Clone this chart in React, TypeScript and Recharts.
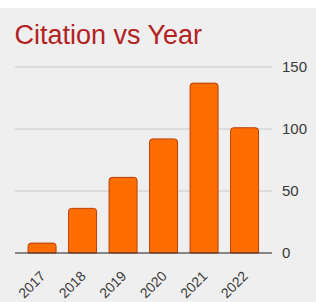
import { BarChart, Bar, XAxis, YAxis, CartesianGrid } from "recharts"

const years = ["2017", "2018", "2019", "2020", "2021", "2022"]
const citations = [8, 36, 61, 92, 137, 101]
const yTicks = [0, 50, 100, 150]

const data = years.map((year, i) => ({ year, citations: citations[i] }))

function YearTick(props: any) {
  const { x, y, payload } = props
  const ax = x + 4
  const ay = y + 16
  return (
    <text
      x={ax}
      y={ay}
      transform={`rotate(-45, ${ax}, ${ay})`}
      textAnchor="end"
      fontSize={14}
      fill="#3a3a3a"
      fontFamily="'Liberation Sans', Arial, sans-serif"
    >
      {payload.value}
    </text>
  )
}

export default function App() {
  return (
    <div style={{ position: "absolute", left: 0, top: 0, width: 316, height: 302, background: "#fff" }}>
      <div style={{ position: "absolute", left: 0, top: 8, width: 316, height: 294, background: "#efefef" }}>
        <svg width={316} height={60} style={{ position: "absolute", left: 0, top: 0 }}>
          <text x={14.5} y={35.5} fontSize={27} fill="#b22222" fontFamily="'Liberation Sans', Arial, sans-serif">
            Citation vs Year
          </text>
        </svg>
        <div style={{ position: "absolute", left: 0, top: 0 }}>
          <BarChart
            width={316}
            height={294}
            data={data}
            margin={{ top: 59, right: 0, left: 15, bottom: 0 }}
            barCategoryGap="15%"
          >
            <CartesianGrid vertical={false} stroke="#c8c8c8" />
            <XAxis
              dataKey="year"
              height={49}
              padding={{ left: 7, right: 7 }}
              tickLine={false}
              axisLine={{ stroke: "#333" }}
              tick={<YearTick />}
              interval={0}
            />
            <YAxis
              orientation="right"
              width={44}
              domain={[0, 150]}
              ticks={yTicks}
              axisLine={false}
              tickLine={false}
              tickSize={0}
              tickMargin={10}
              tick={{ fontSize: 15, fill: "#3a3a3a", fontFamily: "'Liberation Sans', Arial, sans-serif" }}
            />
            <Bar
              dataKey="citations"
              fill="#ff6d00"
              stroke="#b8400c"
              strokeWidth={1}
              radius={[3, 3, 0, 0]}
              isAnimationActive={false}
            />
          </BarChart>
        </div>
      </div>
    </div>
  )
}
